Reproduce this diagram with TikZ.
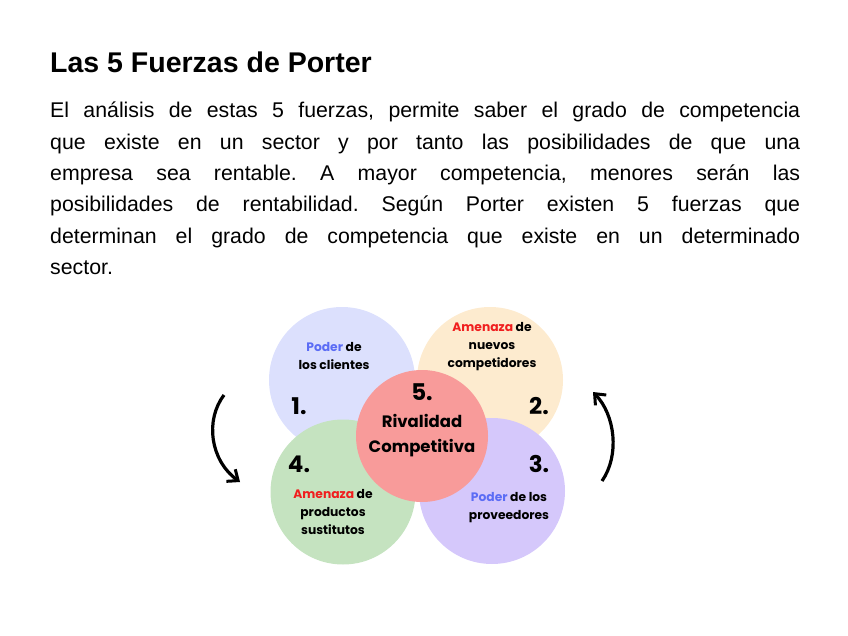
\documentclass[tikz,border=0pt]{standalone}
\usepackage{fontspec}
\setmainfont{Liberation Sans}
\newfontfamily\pop{Poppins}
\usetikzlibrary{arrows.meta}
\definecolor{cblue}{HTML}{DCE0FD}
\definecolor{corange}{HTML}{FDEBCF}
\definecolor{cpurple}{HTML}{D5C8FB}
\definecolor{cgreen}{HTML}{C5E3C0}
\definecolor{cred}{HTML}{F89B9A}
\definecolor{tblue}{HTML}{5B6CF5}
\definecolor{tred}{HTML}{F01E1E}
\tikzset{
 circ/.style={circle,inner sep=0pt},
 lbl/.style={align=center,font=\pop\fontsize{12.3}{18}\selectfont\bfseries},
 num/.style={font=\pop\fontsize{23}{26}\selectfont\bfseries},
 arr/.style={line width=3.2pt,-{Straight Barb[length=9pt,width=15pt,line width=3pt]}}
}
\begin{document}
\begin{tikzpicture}[x=1pt,y=-1pt]
\useasboundingbox (0,0) rectangle (848,636);
\node[anchor=base west,inner sep=0pt,font=\fontsize{28.5}{30}\selectfont\bfseries] (title) at (50,73) {Las 5 Fuerzas de Porter};
\node[anchor=north west,inner sep=0pt,text width=750pt,align=justify,font=\fontsize{21.3}{31.3}\selectfont\frenchspacing] (para) at (50,102) {El análisis de estas 5 fuerzas, permite saber el grado de competencia\linebreak que existe en un sector y por tanto las posibilidades de que una\linebreak empresa sea rentable. A mayor competencia, menores serán las\linebreak posibilidades de rentabilidad. Según Porter existen 5 fuerzas que\linebreak determinan el grado de competencia que existe en un determinado\linebreak sector.};
\node[circ,fill=cblue,minimum size=146pt] (c1) at (342,380) {};
\node[circ,fill=corange,minimum size=146pt] (c2) at (490,380) {};
\node[circ,fill=cpurple,minimum size=146pt] (c3) at (492,491) {};
\node[circ,fill=cgreen,minimum size=145pt] (c4) at (343,492) {};
\node[circ,fill=cred,minimum size=132pt] (c5) at (422,436) {};
\node[lbl] (t1) at (334,356) {{\color{tblue}Poder} de\\los clientes};
\node[lbl] (t2) at (492,347) {{\color{tred}Amenaza} de\\nuevos\\competidores};
\node[lbl] (t3) at (509,508) {{\color{tblue}Poder} de los\\proveedores};
\node[lbl] (t4) at (333,512) {{\color{tred}Amenaza} de\\productos\\sustitutos};
\node[align=center,font=\pop\fontsize{16.5}{25}\selectfont\bfseries] (t5) at (422,436) {Rivalidad\\Competitiva};
\node[num] (n1) at (299,406) {1.};
\node[num] (n2) at (539,406) {2.};
\node[num] (n3) at (539,464) {3.};
\node[num] (n4) at (299,464) {4.};
\node[num] (n5) at (422,392) {5.};
\coordinate (a1s) at (224,395);
\coordinate (a1e) at (240,482);
\coordinate (a2s) at (602,481);
\coordinate (a2e) at (593,392);
\draw[arr] (a1s) .. controls (205,420) and (210,460) .. (a1e);
\draw[arr] (a2s) .. controls (620,455) and (615,415) .. (a2e);
\end{tikzpicture}
\end{document}
